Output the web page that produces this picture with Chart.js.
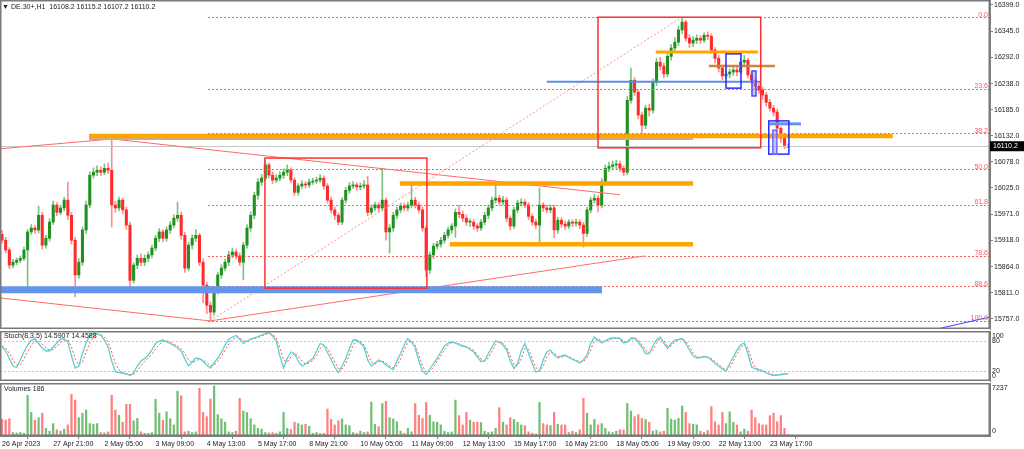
<!DOCTYPE html>
<html>
<head>
<meta charset="utf-8">
<title>DE.30+ H1</title>
<script src="https://cdn.jsdelivr.net/npm/chart.js@4.4.0/dist/chart.umd.min.js"></script>
<style>
html, body { margin: 0; padding: 0; background: #fff; }
#wrap { position: relative; width: 1024px; height: 449px; overflow: hidden; }
#wrap canvas { position: absolute; left: 0; top: 0; }
</style>
</head>
<body>
<div id="wrap">
  <canvas id="price" width="1024" height="449" style="width:1024px;height:449px"></canvas>
  <canvas id="stoch" width="1024" height="449" style="width:1024px;height:449px"></canvas>
  <canvas id="vol" width="1024" height="449" style="width:1024px;height:449px"></canvas>
</div>
<script>
// ---- data (one candle = two H1 bars) ----
var xLabels = ['26 Apr 2023', '27 Apr 21:00', '2 May 05:00', '3 May 09:00', '4 May 13:00', '5 May 17:00',
  '8 May 21:00', '10 May 05:00', '11 May 09:00', '12 May 13:00', '15 May 17:00', '16 May 21:00',
  '18 May 05:00', '19 May 09:00', '22 May 13:00', '23 May 17:00'];

var priceTicks = [16399, 16345, 16292, 16238, 16185, 16132, 16078, 16025, 15971, 15918, 15864, 15811, 15757];

var open = [
  15930,15918,15898,15867,15873,15877,15881,15898,15935,15943,
  15939,15969,15908,15922,15955,15990,15975,15984,16000,15969,
  15918,15847,15873,15939,15990,16051,16057,16061,16057,16065,
  16061,15990,15984,16000,15980,15949,15836,15867,15881,15873,
  15881,15888,15902,15922,15935,15922,15939,15949,15963,15969,
  15928,15861,15908,15922,15928,15873,15826,15785,15771,15816,
  15847,15861,15873,15888,15894,15886,15873,15908,15943,15969,
  16010,16037,16045,16072,16051,16041,16045,16051,16057,16061,
  16041,16016,16029,16033,16031,16037,16039,16041,16045,16029,
  16000,15980,15969,15955,16000,16020,16029,16031,16027,16029,
  16031,15975,15984,15990,15984,16000,15935,15943,15969,15980,
  15988,15984,15990,16000,15990,15980,15943,15857,15888,15906,
  15910,15918,15928,15939,15947,15975,15971,15963,15955,15955,
  15947,15943,15955,15969,15984,16000,16004,15996,16000,15963,
  15947,15980,15994,15996,15990,15967,15955,15949,15990,15984,
  15980,15984,15939,15959,15951,15947,15955,15953,15955,15949,
  15932,15980,16000,16004,15990,16037,16065,16069,16072,16074,
  16065,16057,16204,16245,16221,16174,16153,16188,16184,16241,
  16282,16274,16258,16294,16311,16323,16348,16364,16331,16321,
  16327,16331,16327,16337,16335,16307,16290,16270,16254,16258,
  16262,16266,16262,16282,16286,16256,16245,16233,16225,16215,
  16200,16188,16180,16147,16127,16108.2];

var high = [
  15938,15924,15903,15879,15882,15886,15904,15940,15950,15948,
  15988,15975,15928,15962,15998,15995,15990,16006,16037,15975,
  15924,15880,15945,15998,16058,16066,16070,16068,16074,16076,
  16127,15998,16006,16004,15986,15955,15872,15888,15890,15888,
  15894,15908,15928,15942,15940,15945,15956,15970,15996,15976,
  15934,15914,15929,15940,15932,15880,15832,15792,15822,15852,
  15868,15880,15895,15902,15900,15892,15914,15950,15976,16016,
  16044,16052,16082,16076,16058,16052,16058,16064,16072,16066,
  16046,16034,16040,16038,16043,16045,16047,16052,16050,16034,
  16006,15986,15974,16005,16026,16036,16038,16036,16035,16040,
  16049,15990,15996,15995,16065,16004,15950,15975,15986,15994,
  15994,15996,16037,16006,15996,15986,15948,15894,15912,15916,
  15924,15934,15945,15952,15982,15990,15978,15970,15962,15960,
  15952,15960,15975,15990,16006,16037,16010,16008,16005,15968,
  15986,16000,16003,16001,15995,15972,15960,16025,15995,15990,
  15990,15990,15965,15964,15957,15960,15960,15961,15960,15955,
  15986,16006,16012,16010,16044,16072,16078,16080,16082,16080,
  16070,16212,16270,16250,16226,16180,16194,16196,16248,16290,
  16292,16280,16300,16318,16332,16356,16374,16368,16338,16334,
  16338,16336,16342,16344,16340,16312,16296,16276,16266,16268,
  16274,16272,16288,16296,16290,16262,16250,16240,16230,16220,
  16206,16194,16186,16150,16132,16115.2];

var low = [
  15912,15892,15860,15862,15868,15872,15876,15822,15930,15932,
  15933,15900,15902,15916,15950,15968,15970,15978,15960,15910,
  15802,15840,15866,15932,15984,16045,16050,16050,16052,16054,
  15945,15975,15978,15972,15940,15816,15830,15860,15866,15866,
  15874,15882,15896,15915,15915,15916,15932,15943,15957,15920,
  15852,15855,15900,15915,15866,15790,15768,15753,15765,15808,
  15840,15855,15866,15882,15880,15866,15837,15902,15936,15962,
  16002,16030,16040,16045,16034,16036,16040,16044,16050,16035,
  16010,16010,16024,16025,16026,16032,16034,16036,16022,15994,
  15974,15960,15949,15950,15994,16014,16024,16020,16021,16024,
  15968,15970,15978,15977,15978,15918,15892,15936,15962,15974,
  15978,15978,15984,15984,15974,15936,15843,15850,15880,15900,
  15904,15912,15922,15932,15924,15964,15956,15948,15946,15940,
  15936,15938,15950,15962,15978,15994,15990,15990,15956,15939,
  15942,15974,15988,15984,15960,15948,15942,15914,15977,15974,
  15974,15924,15932,15944,15940,15942,15946,15947,15942,15904,
  15926,15974,15994,15976,15984,16030,16058,16062,16064,16058,
  16050,16052,16198,16214,16166,16133,16146,16172,16178,16234,
  16266,16250,16252,16286,16304,16316,16340,16325,16312,16314,
  16320,16320,16322,16328,16300,16280,16262,16246,16248,16250,
  16255,16254,16258,16276,16250,16238,16226,16218,16206,16192,
  16182,16172,16140,16118,16105,16107.2];

var close = [
  15918,15898,15867,15873,15877,15881,15898,15935,15943,15939,
  15969,15908,15922,15955,15990,15975,15984,16000,15969,15918,
  15847,15873,15939,15990,16051,16057,16061,16057,16065,16061,
  15990,15984,16000,15980,15949,15836,15867,15881,15873,15881,
  15888,15902,15922,15935,15922,15939,15949,15963,15969,15928,
  15861,15908,15922,15928,15873,15826,15785,15771,15816,15847,
  15861,15873,15888,15894,15886,15873,15908,15943,15969,16010,
  16037,16045,16072,16051,16041,16045,16051,16057,16061,16041,
  16016,16029,16033,16031,16037,16039,16041,16045,16029,16000,
  15980,15969,15955,16000,16020,16029,16031,16027,16029,16031,
  15975,15984,15990,15984,16000,15935,15943,15969,15980,15988,
  15984,15990,16000,15990,15980,15943,15857,15888,15906,15910,
  15918,15928,15939,15947,15975,15971,15963,15955,15955,15947,
  15943,15955,15969,15984,16000,16004,15996,16000,15963,15947,
  15980,15994,15996,15990,15967,15955,15949,15990,15984,15980,
  15984,15939,15959,15951,15947,15955,15953,15955,15949,15932,
  15980,16000,16004,15990,16037,16065,16069,16072,16074,16065,
  16057,16204,16245,16221,16174,16153,16188,16184,16241,16282,
  16274,16258,16294,16311,16323,16348,16364,16331,16321,16327,
  16331,16327,16337,16335,16307,16290,16270,16254,16258,16262,
  16266,16262,16282,16286,16256,16245,16233,16225,16215,16200,
  16188,16180,16147,16127,16112,16110.2];

var volume = [
  2400,2300,2500,500,450,500,400,5900,3400,2300,
  2650,3300,1100,700,1800,900,700,1000,1600,6000,
  5200,2650,3300,3750,1800,1700,1800,500,450,600,
  5900,3750,3000,2000,4600,4600,2200,2550,600,400,
  400,500,5300,3300,2300,3500,2500,1600,6500,5800,
  600,700,500,600,6900,3400,2800,5350,7237,3100,
  2500,2000,600,500,700,5450,3600,3400,2500,1600,
  1100,1000,500,450,500,400,600,3400,1100,950,
  2000,1800,1600,1700,1400,400,500,350,400,3900,
  2400,1600,2200,2450,1600,1500,500,400,700,500,
  600,4900,1700,1350,4700,5000,2650,2450,2050,700,
  400,1100,600,4700,3000,2550,4850,3000,2050,2000,
  1600,700,500,600,5200,2950,1600,3400,2300,2000,
  2000,1950,700,500,600,1100,4100,2000,1600,2650,
  2400,2000,1600,1500,600,400,300,4850,1800,1600,
  1500,3400,1700,1600,1600,500,700,500,900,5450,
  3300,1600,2400,1600,1800,1100,600,500,700,900,
  900,4700,3600,2800,3100,2550,2400,2000,700,800,
  600,700,4000,2450,2300,2550,4350,3400,1800,1700,
  1600,700,500,800,4250,2050,1600,3400,1800,3500,
  2000,1600,600,1000,700,3750,2650,1800,1600,1600,
  2950,3300,2050,2950,1100,186];

var stochK = [
  69,60,45,30,27,42,58,72,82,84,
  75,66,60,60,68,76,84,84,78,50,
  26,30,55,76,90,95,94,92,82,68,
  40,19,17,16,14,11,16,30,40,45,
  52,62,75,80,82,78,75,71,66,60,
  44,30,38,46,45,39,32,26,36,46,
  57,72,83,88,91,84,75,80,84,86,
  89,92,95,97,90,80,50,26,45,58,
  55,40,30,34,40,45,60,75,72,57,
  43,28,17,30,45,65,82,82,76,68,
  42,30,36,42,38,32,27,23,40,55,
  72,85,78,66,40,20,13,24,35,45,
  58,70,76,78,76,72,70,68,63,58,
  48,39,40,55,68,80,78,72,62,40,
  25,35,60,75,55,35,18,20,42,58,
  62,52,46,50,52,47,43,40,36,42,
  52,75,88,82,76,80,85,86,86,85,
  76,78,86,86,77,68,55,55,70,82,
  88,75,65,75,82,83,85,75,62,50,
  46,47,49,48,42,35,30,24,20,35,
  48,62,72,76,55,28,24,22,20,16,
  13,11,12,13,14,14.5907];

var stochD = [
  70,66,55,42,32,32,44,58,71,80,
  80,74,66,62,63,69,77,82,82,68,
  45,32,38,58,76,88,93,93,88,78,
  58,35,22,17,15,13,13,20,30,39,
  46,54,64,73,79,80,78,74,70,65,
  55,42,37,40,44,42,37,31,32,39,
  49,62,74,83,88,87,80,79,82,85,
  87,90,93,95,93,86,66,42,38,48,
  55,50,40,34,36,41,50,65,71,66,
  52,38,25,24,35,52,72,80,79,72,
  55,38,34,38,40,36,30,26,31,44,
  62,77,80,72,52,30,18,19,28,39,
  50,63,72,77,77,74,71,69,66,61,
  53,44,40,46,60,73,78,76,68,50,
  32,30,45,65,63,45,27,20,30,48,
  58,56,50,48,50,49,45,42,38,39,
  46,63,80,84,80,79,82,85,86,86,
  80,77,82,86,82,73,62,56,62,75,
  85,81,70,70,78,82,84,80,69,56,
  49,47,48,48,45,39,33,27,22,27,
  40,54,66,74,66,42,27,23,21,18,
  15,12,12,12.5,13.5,14.4588];

var stochLevels = [80, 20];
var stochAxis = [100, 80, 20, 0];
var volAxis = [7237, 0];
var lastPrice = 16110.2;

// fibonacci retracement drawn on the chart
var fibHigh = 16374, fibLow = 15753;
var fibLevels = [0, 23.6, 38.2, 50, 61.8, 78.6, 88.6, 100];

// ---- layout ----
var xMin = -0.55, xMax = 270.2;
var barsPerLabel = 14;
var axisFont = '7px "Liberation Sans", Arial, sans-serif';

Chart.defaults.font.family = '"Liberation Sans", Arial, sans-serif';
Chart.defaults.font.size = 7;
Chart.defaults.color = '#222';

// drawn objects, in bar index / price units
var levelLines = [
  [23.8, 243.6, 16131, '#ffa500', 4.5],
  [23.8, 189, 16125, '#d9a86f', 2],
  [108.8, 189, 16034, '#ffa500', 4.5],
  [122.5, 189, 15910, '#ffa500', 4.5],
  [178.8, 206.7, 16303, '#ffa500', 3],
  [193.3, 211.4, 16274, '#cd853f', 2.5],
  [-0.6, 164.1, 15817, '#6495ed', 7],
  [149, 207.3, 16242, '#5b8be6', 2],
  [209.9, 218.5, 16156, '#6495ed', 3]
];
var boxes = [
  [71.9, 116.2, 16086, 15820, '#ff3030', null],
  [163, 207.5, 16374, 16107, '#ff3030', null],
  [198, 202.1, 16299, 16229, '#2a2aff', null],
  [205.1, 206.2, 16264, 16213, '#4a4aff', 'rgba(150,150,255,0.5)'],
  [209.7, 215.2, 16162, 16094, '#2a2aff', null],
  [210.8, 211.9, 16143, 16094, '#6a6aff', 'rgba(150,150,255,0.55)']
];
var trendLines = [
  [-0.55, 16105, 30.1, 16125, '#ff6a6a'],
  [30.1, 16125, 169, 16011, '#ff6a6a'],
  [-0.55, 15800, 56.9, 15753, '#ff6a6a'],
  [56.9, 15753, 175.8, 15886, '#ff6a6a'],
  [256, 15737, 270.2, 15761, '#3c3cff']
];
var fibFrom = 56.3;
var fibDiag = [56.9, fibLow, 185.9, fibHigh];

var isUp = close.map(function(c, i) { return c >= open[i]; });

function xScale(show) {
  return {
    type: 'linear', min: xMin, max: xMax, offset: false, display: show,
    afterBuildTicks: function(s) {
      s.ticks = xLabels.map(function(t, k) { return { value: k * barsPerLabel }; });
    },
    ticks: {
      autoSkip: false, maxRotation: 0, minRotation: 0, align: 'start', padding: 1, color: '#222',
      callback: function(v, k) { return xLabels[k]; }
    },
    grid: { drawOnChartArea: false, tickLength: 3, color: '#808080' },
    border: { color: '#808080' },
    afterFit: function(s) {
      s.height = show ? 13 : 0;
      s.paddingLeft = 0; s.paddingRight = 0;
    }
  };
}

function yScale(min, max, opts) {
  var s = {
    position: 'right', min: min, max: max, beginAtZero: false,
    grid: { drawOnChartArea: false, drawTicks: false, display: false },
    ticks: { display: false },
    border: { color: '#808080' },
    afterFit: function(sc) { sc.width = 34; sc.paddingTop = 0; sc.paddingBottom = 0; }
  };
  return Object.assign(s, opts || {});
}

function frame(chart) {
  var a = chart.chartArea, ctx = chart.ctx;
  ctx.save();
  ctx.strokeStyle = '#7a7a7a';
  ctx.lineWidth = 1.5;
  ctx.strokeRect(a.left + 0.75, a.top + 0.75, a.right - a.left - 1.5, a.bottom - a.top - 1.5);
  ctx.restore();
}

function sideLabels(chart, values) {
  var y = chart.scales.y, a = chart.chartArea, ctx = chart.ctx;
  ctx.save();
  ctx.font = axisFont;
  ctx.fillStyle = '#222';
  ctx.textBaseline = 'middle';
  values.forEach(function(v) {
    var py = Math.min(Math.max(y.getPixelForValue(v), a.top + 5), a.bottom - 5);
    ctx.fillText(String(v), a.right + 2, py);
  });
  ctx.restore();
}

// ---- price pane ----
var overlay = {
  id: 'overlay',
  afterDatasetsDraw: function(chart) {
    var ctx = chart.ctx, a = chart.chartArea, x = chart.scales.x, y = chart.scales.y;
    var px = function(v) { return x.getPixelForValue(v); };
    var py = function(v) { return y.getPixelForValue(v); };
    ctx.save();
    ctx.beginPath();
    ctx.rect(a.left, a.top, a.right - a.left, a.bottom - a.top);
    ctx.clip();

    // last price line
    ctx.strokeStyle = '#c8c8c8';
    ctx.lineWidth = 1;
    ctx.beginPath();
    ctx.moveTo(a.left, Math.round(py(lastPrice)) + 0.5);
    ctx.lineTo(a.right, Math.round(py(lastPrice)) + 0.5);
    ctx.stroke();

    // fibonacci
    ctx.setLineDash([2, 2]);
    ctx.strokeStyle = '#ff5a5a';
    fibLevels.forEach(function(l) {
      var yy = Math.round(py(fibHigh - (fibHigh - fibLow) * l / 100)) + 0.5;
      ctx.beginPath();
      ctx.moveTo(px(fibFrom), yy);
      ctx.lineTo(a.right, yy);
      ctx.stroke();
    });
    ctx.strokeStyle = '#ff8c8c';
    ctx.beginPath();
    ctx.moveTo(px(fibDiag[0]), py(fibDiag[1]));
    ctx.lineTo(px(fibDiag[2]), py(fibDiag[3]));
    ctx.stroke();
    ctx.setLineDash([]);

    // trend lines
    trendLines.forEach(function(t) {
      ctx.strokeStyle = t[4];
      ctx.lineWidth = 1;
      ctx.beginPath();
      ctx.moveTo(px(t[0]), py(t[1]));
      ctx.lineTo(px(t[2]), py(t[3]));
      ctx.stroke();
    });

    // horizontal bands
    levelLines.forEach(function(l) {
      ctx.strokeStyle = l[3];
      ctx.lineWidth = l[4];
      ctx.beginPath();
      ctx.moveTo(px(l[0]), py(l[2]));
      ctx.lineTo(px(l[1]), py(l[2]));
      ctx.stroke();
    });

    // rectangles
    boxes.forEach(function(b) {
      var x0 = px(b[0]), x1 = px(b[1]), y0 = py(b[2]), y1 = py(b[3]);
      if (b[5]) { ctx.fillStyle = b[5]; ctx.fillRect(x0, y0, x1 - x0, y1 - y0); }
      ctx.strokeStyle = b[4];
      ctx.lineWidth = 1.5;
      ctx.strokeRect(x0, y0, x1 - x0, y1 - y0);
    });

    // fib labels
    ctx.font = axisFont;
    ctx.fillStyle = '#ff5a5a';
    ctx.textAlign = 'right';
    ctx.textBaseline = 'bottom';
    fibLevels.forEach(function(l) {
      var yy = py(fibHigh - (fibHigh - fibLow) * l / 100);
      ctx.fillText(l.toFixed(1), a.right - 2, yy + 1);
    });
    ctx.restore();
  },
  afterDraw: function(chart) {
    var ctx = chart.ctx, a = chart.chartArea, y = chart.scales.y;
    frame(chart);
    ctx.save();
    // title
    ctx.font = axisFont;
    ctx.fillStyle = '#222';
    ctx.textBaseline = 'middle';
    ctx.fillText('\u25BC', 2, 7);
    ctx.fillText('DE.30+,H1  16108.2 16115.2 16107.2 16110.2', 11, 7);
    // last price tag
    var yy = y.getPixelForValue(lastPrice);
    ctx.fillStyle = '#000';
    ctx.fillRect(a.right, yy - 5, 34, 10);
    ctx.fillStyle = '#fff';
    ctx.fillText(lastPrice.toFixed(1), a.right + 3, yy);
    ctx.restore();
  }
};

new Chart(document.getElementById('price'), {
  type: 'bar',
  data: {
    datasets: [{
      data: close.map(function(c, i) { return { x: i, y: [open[i], c] }; }),
      backgroundColor: isUp.map(function(u) { return u ? '#1f911f' : '#ff2a2a'; }),
      barThickness: 2.4, minBarLength: 1, grouped: false
    }, {
      data: close.map(function(c, i) { return { x: i, y: [low[i], high[i]] }; }),
      backgroundColor: isUp.map(function(u) { return u ? '#7fc27f' : '#ff8c8c'; }),
      barThickness: 1, grouped: false
    }]
  },
  options: {
    responsive: false, animation: false, devicePixelRatio: 1,
    layout: { padding: { top: 0, left: 0, right: 0, bottom: 120 } },
    plugins: { legend: { display: false }, tooltip: { enabled: false } },
    scales: {
      x: xScale(false),
      y: yScale(15736.5, 16409.2, {
        afterBuildTicks: function(s) { s.ticks = priceTicks.map(function(v) { return { value: v }; }); },
        ticks: { display: true, autoSkip: false, padding: 1, color: '#222',
          callback: function(v) { return v.toFixed(1); } },
        grid: { display: true, drawOnChartArea: false, drawTicks: true, tickLength: 3, color: '#808080' }
      })
    }
  },
  plugins: [overlay]
});

// ---- stochastic pane ----
new Chart(document.getElementById('stoch'), {
  type: 'line',
  data: {
    datasets: [{
      data: stochK.map(function(v, i) { return { x: i, y: v }; }),
      borderColor: '#5ccfcf', borderWidth: 1.3, pointRadius: 0, tension: 0
    }, {
      data: stochD.map(function(v, i) { return { x: i, y: v }; }),
      borderColor: '#ff5050', borderWidth: 1, borderDash: [2, 2], pointRadius: 0, tension: 0
    }]
  },
  options: {
    responsive: false, animation: false, devicePixelRatio: 1,
    layout: { padding: { top: 331, left: 0, right: 0, bottom: 68 } },
    plugins: { legend: { display: false }, tooltip: { enabled: false } },
    scales: { x: xScale(false), y: yScale(0, 100) }
  },
  plugins: [{
    id: 'stochExtras',
    beforeDatasetsDraw: function(chart) {
      var ctx = chart.ctx, a = chart.chartArea, y = chart.scales.y;
      ctx.save();
      ctx.strokeStyle = '#c4c4c4';
      ctx.setLineDash([2, 2]);
      stochLevels.forEach(function(l) {
        var yy = Math.round(y.getPixelForValue(l)) + 0.5;
        ctx.beginPath();
        ctx.moveTo(a.left, yy);
        ctx.lineTo(a.right, yy);
        ctx.stroke();
      });
      ctx.restore();
    },
    afterDraw: function(chart) {
      var ctx = chart.ctx, a = chart.chartArea;
      frame(chart);
      sideLabels(chart, stochAxis);
      ctx.save();
      ctx.font = axisFont;
      ctx.fillStyle = '#222';
      ctx.textBaseline = 'middle';
      ctx.fillText('Stoch(8,3,5) 14.5907 14.4588', a.left + 4, a.top + 5);
      ctx.restore();
    }
  }]
});

// ---- volume pane ----
new Chart(document.getElementById('vol'), {
  type: 'bar',
  data: {
    datasets: [{
      data: volume.map(function(v, i) { return { x: i, y: v }; }),
      backgroundColor: isUp.map(function(u) { return u ? '#72be72' : '#ff7f7f'; }),
      barThickness: 1.6, grouped: false
    }]
  },
  options: {
    responsive: false, animation: false, devicePixelRatio: 1,
    layout: { padding: { top: 383, left: 0, right: 0, bottom: 0 } },
    plugins: { legend: { display: false }, tooltip: { enabled: false } },
    scales: { x: xScale(true), y: yScale(0, 7671) }
  },
  plugins: [{
    id: 'volExtras',
    afterDraw: function(chart) {
      var ctx = chart.ctx, a = chart.chartArea;
      frame(chart);
      sideLabels(chart, volAxis);
      ctx.save();
      ctx.font = axisFont;
      ctx.fillStyle = '#222';
      ctx.textBaseline = 'middle';
      ctx.fillText('Volumes 186', a.left + 4, a.top + 6);
      ctx.restore();
    }
  }]
});
</script>
</body>
</html>
